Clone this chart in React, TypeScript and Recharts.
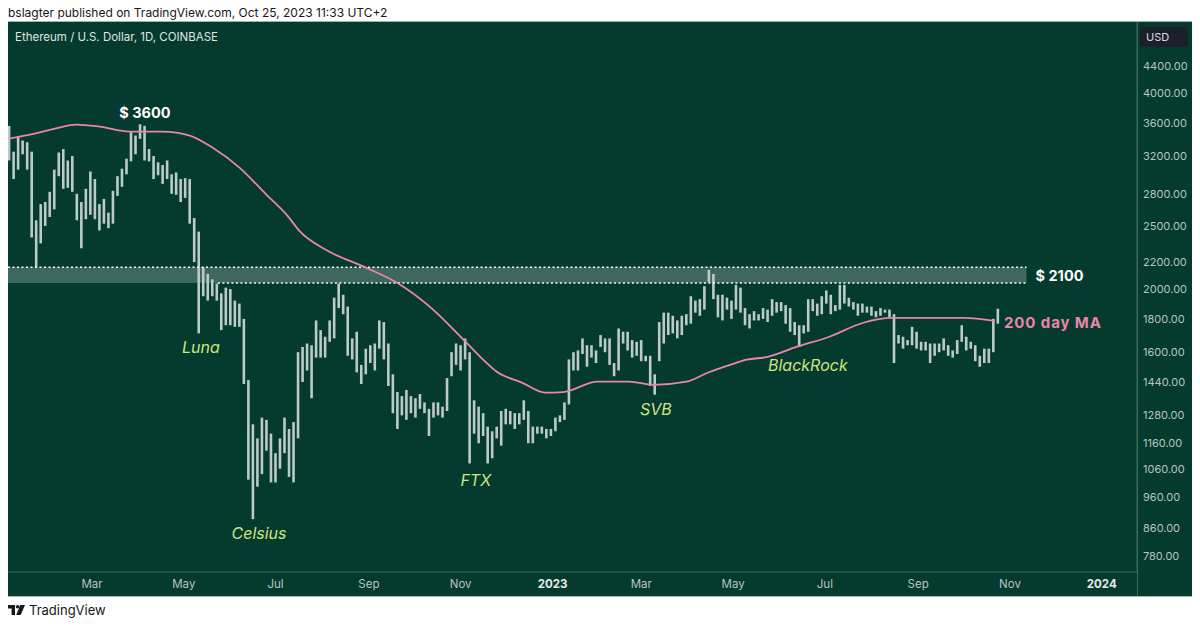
import {
  ComposedChart, Bar, Line, XAxis, YAxis,
  ReferenceArea, ReferenceLine, ReferenceDot,
} from 'recharts'

// daily chart squeezed into 3-day buckets; day 0 = Jan 1 2022
const FIRST_DAY = 4
const STEP = 3

const highs = [
  // 2022 Jan
  3560, 3250, 3420, 3380, 3360, 3250, 2550, 2700, 2720,
  // Feb
  2820, 3050, 3240, 3280, 3150, 3200, 2800, 2720, 2850, 3030,
  // Mar
  2950, 2700, 2750, 2620, 2830, 2980, 3060, 3170, 3480, 3440,
  // Apr
  3580, 3560, 3280, 3200, 3130, 3100, 3150, 3000, 3020, 2950,
  // May
  2960, 2950, 2570, 2450, 2160, 2110, 2070, 2040, 1970, 2010,
  // Jun
  2000, 1920, 1900, 1800, 1450, 1240, 1180, 1270, 1260, 1200,
  // Jul
  1120, 1180, 1270, 1220, 1250, 1600, 1630, 1650, 1640, 1790, 1730,
  // Aug
  1690, 1790, 1940, 2040, 1960, 1880, 1680, 1720, 1530, 1620,
  // Sep
  1640, 1650, 1790, 1780, 1650, 1480, 1390, 1370, 1400, 1370,
  // Oct
  1360, 1380, 1340, 1310, 1340, 1340, 1320, 1460, 1600, 1650,
  // Nov
  1640, 1680, 1600, 1350, 1320, 1290, 1230, 1210, 1230, 1300,
  // Dec
  1310, 1300, 1290, 1290, 1350, 1300, 1230, 1230, 1230, 1220, 1220,
  // 2023 Jan
  1270, 1280, 1340, 1560, 1600, 1610, 1680, 1640, 1640, 1610,
  // Feb
  1700, 1680, 1680, 1540, 1740, 1720, 1720, 1670, 1660,
  // Mar
  1670, 1580, 1580, 1480, 1780, 1840, 1840, 1820, 1790, 1820, 1830,
  // Apr
  1950, 1920, 1930, 2020, 2140, 2110, 1960, 1960, 1940, 1920,
  // May
  2030, 2010, 1870, 1830, 1850, 1830, 1870, 1860, 1930, 1910,
  // Jun
  1910, 1890, 1870, 1780, 1760, 1760, 1930, 1930, 1900, 1950,
  // Jul
  1990, 1960, 1890, 2030, 2030, 1940, 1910, 1900, 1900, 1880,
  // Aug
  1880, 1850, 1870, 1860, 1860, 1830, 1700, 1690, 1670, 1750,
  // Sep
  1720, 1660, 1660, 1650, 1650, 1650, 1680, 1640, 1610, 1670,
  // Oct
  1760, 1690, 1660, 1640, 1580, 1620, 1620, 1800, 1866,
]

const lows = [
  // 2022 Jan
  3150, 2950, 3050, 3220, 3050, 2400, 2160, 2350, 2500,
  // Feb
  2580, 2650, 2980, 2850, 2860, 2820, 2550, 2310, 2560, 2600,
  // Mar
  2560, 2460, 2520, 2480, 2520, 2780, 2870, 3000, 3140, 3220,
  // Apr
  3400, 3150, 3140, 2950, 2990, 2900, 2950, 2800, 2790, 2720,
  // May
  2760, 2520, 2200, 1710, 1950, 1920, 1950, 1920, 1730, 1760,
  // Jun
  1760, 1750, 1750, 1430, 1020, 887, 995, 1040, 1130, 1010,
  // Jul
  1010, 1060, 1120, 1030, 1010, 1180, 1440, 1500, 1360, 1570, 1570,
  // Aug
  1570, 1660, 1680, 1870, 1830, 1580, 1560, 1490, 1430, 1480,
  // Sep
  1540, 1500, 1620, 1560, 1420, 1290, 1220, 1280, 1260, 1290,
  // Oct
  1270, 1310, 1290, 1190, 1270, 1280, 1270, 1300, 1470, 1530,
  // Nov
  1500, 1560, 1080, 1200, 1160, 1190, 1080, 1100, 1180, 1150,
  // Dec
  1240, 1240, 1220, 1240, 1260, 1160, 1160, 1200, 1200, 1180, 1190,
  // 2023 Jan
  1210, 1250, 1260, 1330, 1500, 1500, 1590, 1520, 1570, 1540,
  // Feb
  1630, 1600, 1530, 1470, 1500, 1650, 1610, 1570, 1580,
  // Mar
  1550, 1550, 1420, 1377, 1550, 1650, 1700, 1710, 1680, 1700, 1760,
  // Apr
  1770, 1840, 1820, 1860, 2050, 1930, 1810, 1790, 1860, 1800,
  // May
  1860, 1840, 1760, 1740, 1790, 1790, 1800, 1780, 1820, 1840,
  // Jun
  1850, 1770, 1720, 1700, 1630, 1710, 1720, 1850, 1820, 1830,
  // Jul
  1900, 1830, 1850, 1860, 1900, 1880, 1860, 1820, 1840, 1840,
  // Aug
  1820, 1810, 1820, 1840, 1810, 1540, 1650, 1620, 1640, 1640,
  // Sep
  1620, 1610, 1610, 1540, 1580, 1600, 1610, 1580, 1570, 1590,
  // Oct
  1660, 1610, 1620, 1550, 1520, 1540, 1540, 1600, 1770,
]

// 200 day moving average
const maDays = [4, 20, 31, 49, 64, 84, 106, 124, 139, 157, 175, 189, 197, 215, 242, 262, 286, 306, 317,
  328, 345, 360, 372, 395, 416, 432, 454, 468, 483, 494, 508, 527, 549, 571, 591, 616, 638, 659]
const maValues = [3404, 3460, 3510, 3576, 3550, 3488, 3488, 3440, 3297, 3072, 2790, 2590, 2454, 2294, 2153, 2043, 1857, 1671, 1574,
  1493, 1436, 1387, 1390, 1442, 1442, 1426, 1442, 1488, 1530, 1558, 1574, 1630, 1690, 1774, 1806, 1806, 1806, 1787]

const priceTicks = [780, 860, 960, 1060, 1160, 1280, 1440, 1600, 1800, 2000, 2200, 2500, 2800, 3200, 3600, 4000, 4400]
const monthTicks = [59, 120, 181, 243, 304, 365, 424, 485, 546, 608, 669, 730]
const monthLabels = ['Mar', 'May', 'Jul', 'Sep', 'Nov', '2023', 'Mar', 'May', 'Jul', 'Sep', 'Nov', '2024']

// resistance zone
const zoneLow = 2043
const zoneHigh = 2161
const zoneEnd = 680

const events = [
  { day: 131.4, price: 1630, text: 'Luna' },
  { day: 170, price: 844, text: 'Celsius' },
  { day: 314, price: 1017, text: 'FTX' },
  { day: 433.7, price: 1306, text: 'SVB' },
  { day: 534.7, price: 1530, text: 'BlackRock' },
]

const bars = highs.map((hi, i) => ({ day: FIRST_DAY + i * STEP, range: [lows[i], hi] }))
const maData = maDays.map((day, i) => ({ day, ma: maValues[i] }))

const BG = '#053a2f'
const GRID = '#3b6a5e'
const AXIS_TEXT = '#b7c4c0'
const PINK = '#ea86a8'
const LIME = '#cde47f'
const FONT = 'Inter, "Open Sans", Arial, sans-serif'

const W = 1184
const H = 574
const Y_AXIS_W = 55
const X_AXIS_H = 24

function OhlcBar(props: any) {
  const { x, y, width, height } = props
  if (x == null || y == null) return null
  const cx = x + width / 2
  return <line x1={cx} x2={cx} y1={y} y2={y + height} stroke="#bccbc6" strokeWidth={2.6} />
}

function PriceTick(props: any) {
  const { y, payload } = props
  return (
    <text x={W - Y_AXIS_W + 6} y={y} dy={4} fill={AXIS_TEXT} fontSize={11} fontFamily={FONT}>
      {Number(payload.value).toFixed(2)}
    </text>
  )
}

function MonthTick(props: any) {
  const { x, payload } = props
  const label = monthLabels[monthTicks.indexOf(payload.value)]
  const isYear = /^\d{4}$/.test(label)
  return (
    <text x={x} y={H - X_AXIS_H + 16} textAnchor="middle" fill={isYear ? '#e4eae8' : AXIS_TEXT}
      fontSize={11.5} fontWeight={isYear ? 700 : 400} fontFamily={FONT}>
      {label}
    </text>
  )
}

const textShape = (text: string, fill: string, size: number,
  opts: { bold?: boolean, italic?: boolean, anchor?: string, spacing?: number }) =>
  (p: any) => (
    <text x={p.cx} y={p.cy} dy={size * 0.36} textAnchor={opts.anchor ?? 'middle'} fill={fill} fontSize={size}
      fontWeight={opts.bold ? 700 : 400} fontStyle={opts.italic ? 'italic' : 'normal'} fontFamily={FONT}
      letterSpacing={opts.spacing ?? 0}>
      {text}
    </text>
  )

function TvLogo() {
  return (
    <svg width={17} height={11} viewBox="0 0 17 11" style={{ marginRight: 4 }}>
      <path d="M0 0 H7 V10 H3.6 V3.4 H0 Z" fill="#131722" />
      <circle cx={9.6} cy={1.8} r={1.8} fill="#131722" />
      <path d="M12.2 0 H17 L12.6 10 H8.2 Z" fill="#131722" />
    </svg>
  )
}

export default function App() {
  return (
    <div style={{ position: 'relative', width: W, height: 612, fontFamily: FONT }}>
      <div style={{ position: 'absolute', top: -2, left: 0, fontSize: 12, lineHeight: '14px', color: '#131722' }}>
        bslagter published on TradingView.com, Oct 25, 2023 11:33 UTC+2
      </div>

      <div style={{ position: 'absolute', top: 14, left: 0, width: W, height: H, background: BG, outline: '1px solid #9fb2ad' }}>
        <ComposedChart width={W} height={H} data={bars} margin={{ top: 1, right: 0, bottom: 0, left: 0 }}>
          <XAxis dataKey="day" type="number" domain={[3.2, 753.4]} allowDataOverflow
            ticks={monthTicks} interval={0} tick={<MonthTick />} tickLine={false}
            axisLine={{ stroke: GRID }} height={X_AXIS_H} />
          <YAxis orientation="right" type="number" scale="log" domain={[736, 5120]} allowDataOverflow
            ticks={priceTicks} interval={0} tick={<PriceTick />} tickLine={false}
            axisLine={{ stroke: GRID }} width={Y_AXIS_W} />

          <Bar dataKey="range" shape={<OhlcBar />} isAnimationActive={false} />

          <ReferenceArea x1={3.2} x2={zoneEnd} y1={zoneLow} y2={zoneHigh}
            fill="#ffffff" fillOpacity={0.23} stroke="none" />
          <ReferenceLine segment={[{ x: 3.2, y: zoneHigh }, { x: zoneEnd, y: zoneHigh }]}
            stroke="#ffffff" strokeWidth={1.5} strokeDasharray="2 2.5" />
          <ReferenceLine segment={[{ x: 142.7, y: zoneLow }, { x: zoneEnd, y: zoneLow }]}
            stroke="#ffffff" strokeWidth={1.5} strokeDasharray="2 2.5" />

          <Line data={maData} dataKey="ma" type="monotone" stroke={PINK} strokeWidth={1.8}
            dot={false} isAnimationActive={false} />

          <ReferenceDot x={94.2} y={3728} r={0} shape={textShape('$ 3600', '#ffffff', 14.5, { bold: true })} />
          <ReferenceDot x={686} y={2094} r={0} shape={textShape('$ 2100', '#ffffff', 14.5, { bold: true, anchor: 'start' })} />
          <ReferenceDot x={665} y={1774} r={0}
            shape={textShape('200 day MA', PINK, 15, { bold: true, anchor: 'start', spacing: 0.9 })} />
          {events.map(e => (
            <ReferenceDot key={e.text} x={e.day} y={e.price} r={0}
              shape={textShape(e.text, LIME, 16, { italic: true })} />
          ))}
        </ComposedChart>

        <div style={{ position: 'absolute', left: W - Y_AXIS_W, top: 0, width: 1, height: H, background: GRID }} />
        <div style={{ position: 'absolute', left: 7, top: 8, fontSize: 11.5, color: '#dfe6e3' }}>
          Ethereum / U.S. Dollar, 1D, COINBASE
        </div>
        <div style={{
          position: 'absolute', left: W - Y_AXIS_W + 3, top: 5, width: 48, height: 20, borderRadius: 4,
          background: '#1c202b', color: '#d8dbe2', fontSize: 11, lineHeight: '20px', paddingLeft: 6, boxSizing: 'border-box',
        }}>
          USD
        </div>
      </div>

      <div style={{ position: 'absolute', top: 594, left: 0, display: 'flex', alignItems: 'center', fontSize: 13, color: '#131722' }}>
        <TvLogo />
        TradingView
      </div>
    </div>
  )
}
